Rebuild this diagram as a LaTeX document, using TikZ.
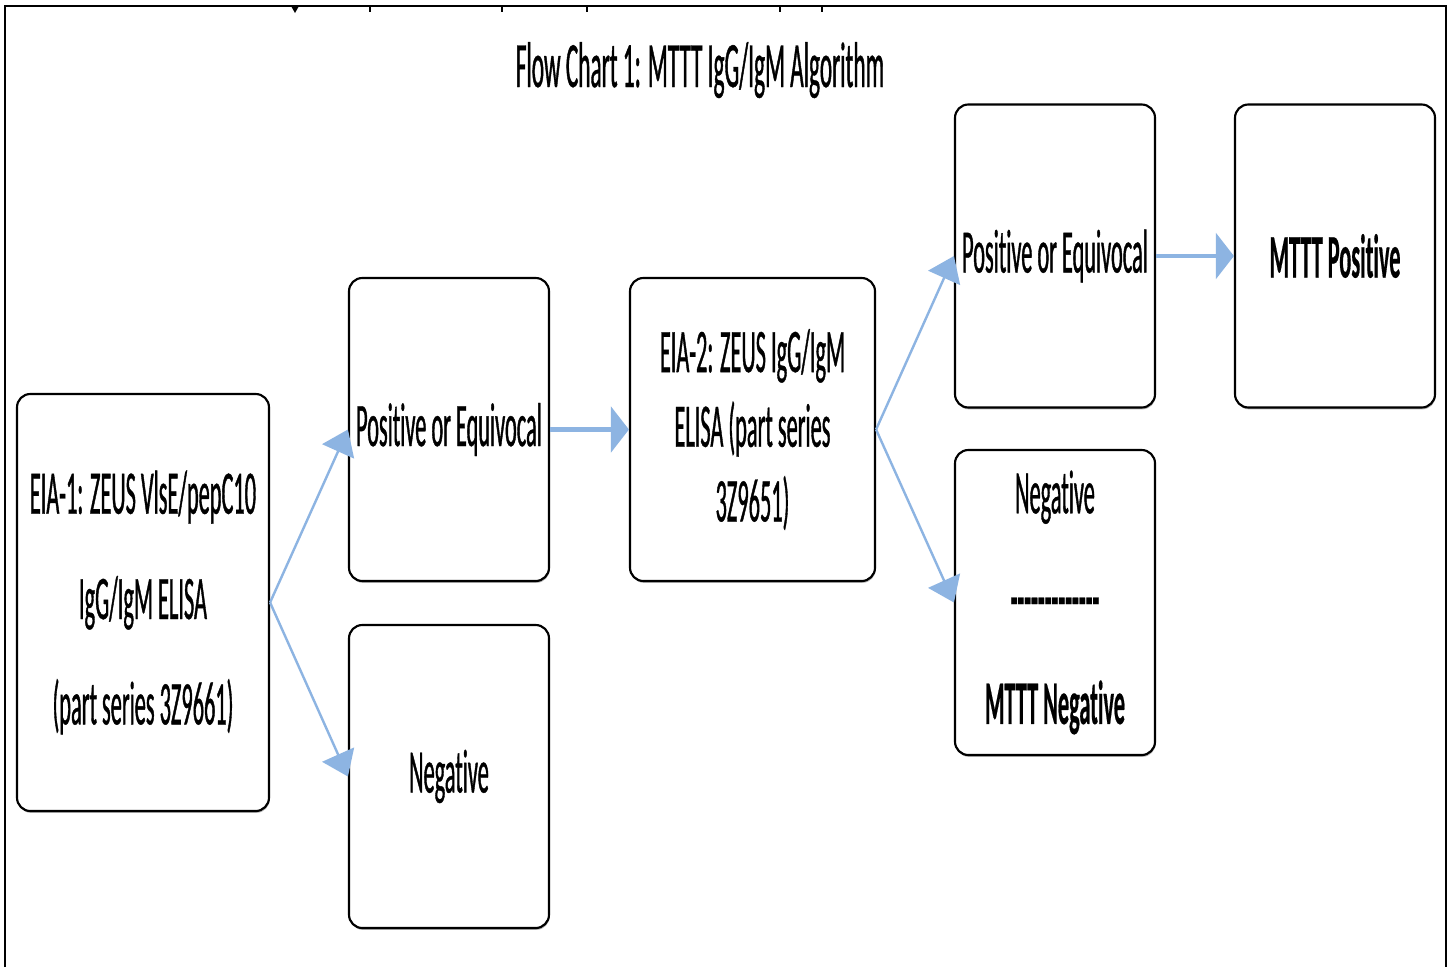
\documentclass[tikz,border=0pt]{standalone}
\usepackage{fontspec}
\newfontfamily\cf[FakeStretch=0.36,Ligatures=NoCommon,FakeBold=0.6,BoldFeatures={FakeBold=0.3}]{Carlito}
\usetikzlibrary{arrows.meta,shadows}
\definecolor{arrowblue}{RGB}{141,180,226}
\begin{document}
\begin{tikzpicture}[x=0.75pt,y=-0.75pt,
  box/.style={draw=black, line width=1.6pt, rounded corners=10pt, fill=white,
    align=center, inner sep=0pt,
    font=\cf\fontsize{46.5}{79}\selectfont,
    drop shadow={shadow xshift=0.5pt, shadow yshift=-1.4pt, fill=black!50, opacity=0.6}},
  smallbox/.style={box, minimum width=150pt, minimum height=227.25pt},
  conn/.style={draw=arrowblue, line width=1.8pt, -{Triangle[length=18pt,width=26pt]}},
  hconn/.style={draw=arrowblue, line width=3.2pt, -{Triangle[length=13.5pt,width=34pt]}},
  frame/.style={draw=black, line width=2.2pt},
  tick/.style={draw=black, line width=1pt}
]
\useasboundingbox (0,0) rectangle (1452,967);
\fill[white] (0,0) rectangle (1452,967);
% frame
\draw[frame] (5,967) -- (5,6) -- (1446,6) -- (1446,967);
\foreach \tx in {370,502,587,780,822} {\draw[tick] (\tx,6) -- (\tx,12);}
\fill[black] (291,6) -- (299,6) -- (295,13) -- cycle;

% title
\node[anchor=base, font=\cf\fontsize{48.5}{56}\selectfont, inner sep=0pt] (title) at (700,87) {Flow Chart 1: MTTT IgG/IgM Algorithm};

% boxes
\node[box, minimum width=189pt, minimum height=312.75pt] (A) at (143,602.5)
  {EIA-1: ZEUS VlsE/pepC10\\IgG/IgM ELISA\\(part series 3Z9661)};
\node[smallbox] (B) at (449,429.5) {Positive or Equivocal};
\node[smallbox] (C) at (449,776.5) {Negative};
\node[box, minimum width=183.75pt, minimum height=227.25pt,
      font=\cf\fontsize{46.5}{56}\selectfont] (D) at (752.5,429.5)
  {EIA-2: ZEUS IgG/IgM\\ELISA (part series\\3Z9651)};
\node[smallbox] (E) at (1055,256) {Positive or Equivocal};
\node[smallbox] (F) at (1335,256) {\bfseries MTTT Positive};
\node[smallbox, minimum height=228.75pt] (G) at (1055,602.5)
  {Negative\\{\bfseries -------------}\\{\bfseries MTTT Negative}};

% connectors
\draw[conn] (A.east) -- (B.west);
\draw[conn] (A.east) -- (C.west);
\draw[hconn] (B.east) -- (D.west);
\draw[conn] (D.east) -- (E.west);
\draw[conn] (D.east) -- (G.west);
\draw[hconn] (E.east) -- (F.west);
\end{tikzpicture}
\end{document}
